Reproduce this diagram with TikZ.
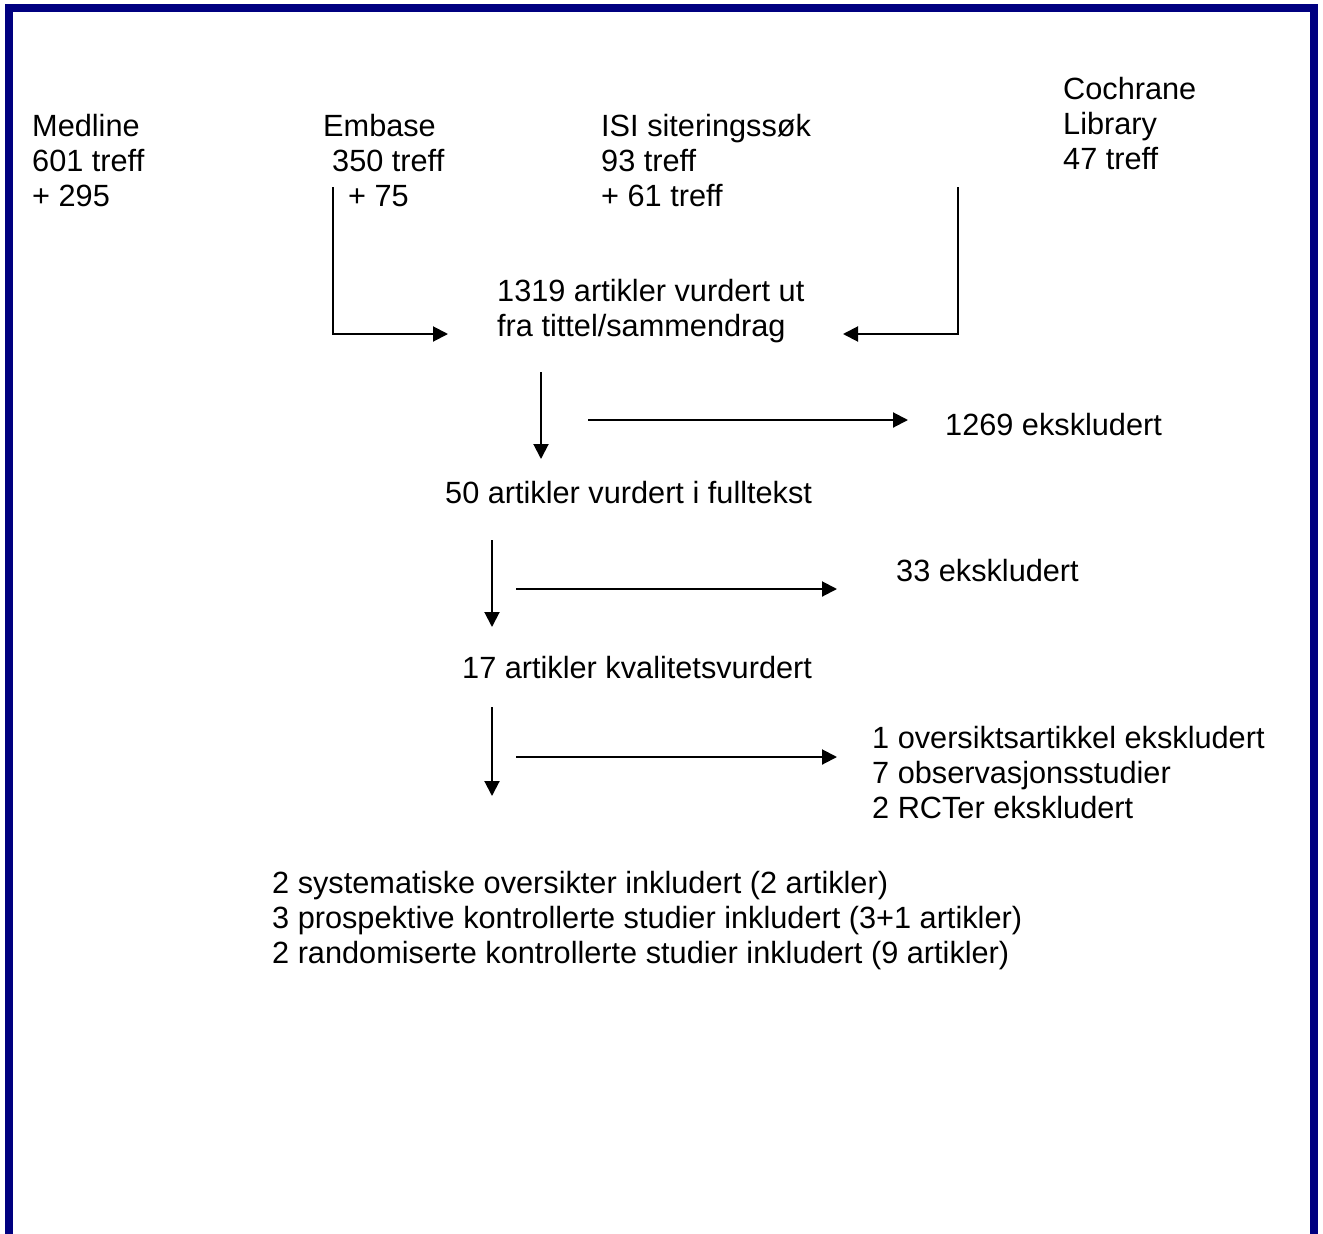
\documentclass[tikz,border=0pt]{standalone}
\usepackage{fontspec}
\setmainfont{Liberation Sans}
\usetikzlibrary{arrows.meta}

\begin{document}
\begin{tikzpicture}[x=1pt, y=-1pt,
			txt/.style={anchor=north west, inner sep=0pt, align=left, font=\fontsize{30.7}{35}\selectfont},
			flow/.style={-{Triangle[length=15pt, width=15pt]}, line width=2pt, draw=black},
			frame/.style={draw={rgb,255:red,0;green,0;blue,128}, line width=8pt, line join=miter}
			]
			\useasboundingbox (0,0) rectangle (1323,1234);
			\draw[frame] (9,1234) -- (9,8) -- (1314,8) -- (1314,1234);
			
			% databases
			\node[txt] (medline) at (32,114) {Medline\\601 treff\\+ 295};
			\node[txt] (embase) at (323,114) {Embase\\\hspace*{9pt}350 treff\\\hspace*{25pt}+ 75};
			\node[txt] (isi) at (601,114) {ISI siteringssøk\\93 treff\\+ 61 treff};
			\node[txt] (cochrane) at (1063,77) {Cochrane\\Library\\47 treff};
			
			% screening steps
			\node[txt] (screen) at (497,279) {1319 artikler vurdert ut\\fra tittel/sammendrag};
			\node[txt] (excltitle) at (945,413) {1269 ekskludert};
			\node[txt] (fulltext) at (445,481) {50 artikler vurdert i fulltekst};
			\node[txt] (exclfull) at (896,559) {33 ekskludert};
			\node[txt] (quality) at (462,656) {17 artikler kvalitetsvurdert};
			\node[txt] (exclquality) at (872,726) {1 oversiktsartikkel ekskludert\\7 observasjonsstudier\\2 RCTer ekskludert};
			\node[txt] (included) at (272,871) {2 systematiske oversikter inkludert (2 artikler)\\3 prospektive kontrollerte studier inkludert (3+1 artikler)\\2 randomiserte kontrollerte studier inkludert (9 artikler)};
			
			% arrow ends
			\coordinate (embfrom) at (333,187);
			\coordinate (embto) at (448,334);
			\coordinate (cochfrom) at (958,187);
			\coordinate (cochto) at (843,334);
			\coordinate (s1) at (541,372);
			\coordinate (s2) at (541,459);
			\coordinate (e1a) at (588,420);
			\coordinate (e1b) at (908,420);
			\coordinate (f1) at (492,540);
			\coordinate (f2) at (492,627);
			\coordinate (e2a) at (516,589);
			\coordinate (e2b) at (837,589);
			\coordinate (q1) at (492,707);
			\coordinate (q2) at (492,796);
			\coordinate (e3a) at (516,757);
			\coordinate (e3b) at (837,757);
			
			\draw[flow] (embfrom) |- (embto);
			\draw[flow] (cochfrom) |- (cochto);
			\draw[flow] (s1) -- (s2);
			\draw[flow] (e1a) -- (e1b);
			\draw[flow] (f1) -- (f2);
			\draw[flow] (e2a) -- (e2b);
			\draw[flow] (q1) -- (q2);
			\draw[flow] (e3a) -- (e3b);
		\end{tikzpicture}
\end{document}
